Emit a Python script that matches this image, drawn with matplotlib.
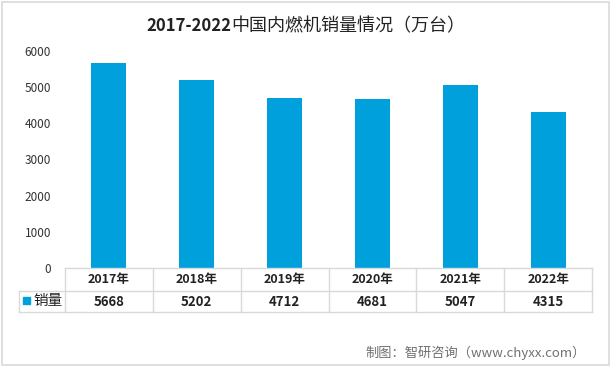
import matplotlib
matplotlib.use("Agg")
import matplotlib.pyplot as plt
from matplotlib.lines import Line2D
from matplotlib.patches import Rectangle

plt.rcParams['font.family'] = ['Noto Sans CJK SC', 'DejaVu Sans']

years = ['2017年', '2018年', '2019年', '2020年', '2021年', '2022年']
sales = [5668, 5202, 4712, 4681, 5047, 4315]
series_name = '销量'
yticks = [0, 1000, 2000, 3000, 4000, 5000, 6000]

W, H = 612, 368
bar_color = '#00A0DC'
grid_color = '#D9D9D9'

fig = plt.figure(figsize=(W / 100, H / 100), dpi=100)

# plot area in pixel coordinates
x0, x1 = 65, 592
y_top, y_zero = 51, 268
ax = fig.add_axes([x0 / W, 1 - y_zero / H, (x1 - x0) / W, (y_zero - y_top) / H])
n = len(years)
ax.bar(range(n), sales, width=0.4, color=bar_color)
ax.set_xlim(-0.5, n - 0.5)
ax.set_ylim(0, 6000)
ax.set_yticks(yticks)
ax.set_yticklabels([str(v) for v in yticks], fontsize=8.5, color='#333333')
ax.tick_params(axis='y', length=0, pad=10)
ax.set_xticks([])
for s in ax.spines.values():
    s.set_visible(False)

# data table below the plot
def fy(p):
    return 1 - p / H

def fx(p):
    return p / W

r0, r1, r2 = 268, 291, 312
legend_x = 19
col_w = (x1 - x0) / n
lines = [
    ((x0, x1), (r0, r0)),
    ((legend_x, x1), (r1, r1)),
    ((legend_x, x1), (r2, r2)),
    ((legend_x, legend_x), (r1, r2)),
]
for i in range(n + 1):
    lines.append(((x0 + i * col_w, x0 + i * col_w), (r0, r2)))
for (xa, xb), (ya, yb) in lines:
    fig.add_artist(Line2D([fx(xa), fx(xb)], [fy(ya), fy(yb)], color=grid_color, lw=1))

for i, (yr, v) in enumerate(zip(years, sales)):
    cx = fx(x0 + (i + 0.5) * col_w)
    fig.text(cx, fy((r0 + r1) / 2), yr, ha='center', va='center', fontsize=9,
             fontweight='bold', color='#222222')
    fig.text(cx, fy((r1 + r2) / 2), str(v), ha='center', va='center', fontsize=9.5,
             fontweight='bold', color='#222222')

fig.add_artist(Rectangle((fx(23), fy(304)), 7 / W, 7 / H, color=bar_color))
fig.text(fx(33), fy((r1 + r2) / 2), series_name, ha='left', va='center',
         fontsize=10.5, color='#222222')

# title: bold digits, regular Chinese
t1 = fig.text(fx(146), fy(26), '2017-2022', ha='left', va='center',
              fontsize=12, fontweight='bold', color='#222222')
ax.annotate('中国内燃机销量情况（万台）', xy=(1, 0.5), xycoords=t1,
            ha='left', va='center', fontsize=13, color='#222222')

fig.text(fx(365), fy(353), '制图：智研咨询（www.chyxx.com）', ha='left',
         va='center', fontsize=9.5, color='#707070')

# outer frame
fig.add_artist(Rectangle((fx(2), fy(365)), (W - 5) / W, (363) / H, fill=False,
                         edgecolor=grid_color, lw=1.2))

fig.savefig('out.png', dpi=100)
